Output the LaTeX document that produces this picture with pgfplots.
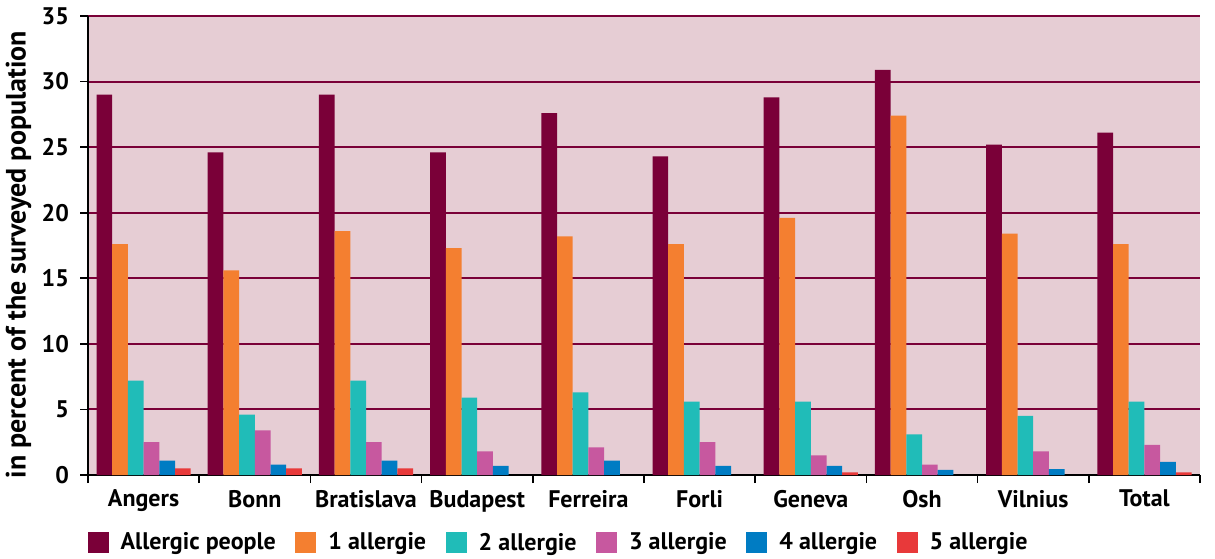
\documentclass[border=0pt]{standalone}
\usepackage{pgfplots}
\pgfplotsset{compat=1.18}
\usepackage{fontspec}
\setmainfont{PT Sans}
\definecolor{c0}{HTML}{7A0038}
\definecolor{c1}{HTML}{F47F30}
\definecolor{c2}{HTML}{20BCB8}
\definecolor{c3}{HTML}{C7589F}
\definecolor{c4}{HTML}{007CC3}
\definecolor{c5}{HTML}{E8393A}
\definecolor{bg}{HTML}{E6CDD4}
\begin{document}
\begin{tikzpicture}[x=1pt,y=1pt]
\useasboundingbox (0,0) rectangle (607.5,279);
\begin{axis}[
  at={(44pt,41.5pt)}, anchor=south west,
  width=556pt, height=229.5pt, scale only axis,
  ybar=0pt, bar width=7.85pt,
  xmin=-0.5, xmax=9.5, ymin=0, ymax=35,
  ytick={0,5,...,35},
  xtick={0,...,9},
  xticklabels={Angers,Bonn,Bratislava,Budapest,Ferreira,Forli,Geneva,Osh,Vilnius,Total},
  minor xtick={-0.5,0.5,...,9.5},
  major x tick style={draw=none},
  minor x tick style={black, line width=0.8pt},
  minor tick length=4pt,
  major tick length=4pt,
  ytick style={black, line width=0.8pt},
  axis x line*=bottom, axis y line*=left,
  axis line style={black, line width=1pt},
  ymajorgrids, grid style={c0, line width=1pt},
  axis background/.style={fill=bg},
  tick align=outside,
  /pgf/number format/assume math mode=true,
  xticklabel style={font=\bfseries\fontsize{12}{14}\selectfont, yshift=0pt},
  yticklabel style={font=\bfseries\fontsize{12}{14}\selectfont, xshift=-2pt},
  ylabel={in percent of the surveyed population},
  ylabel style={font=\bfseries\fontsize{14}{16}\selectfont,
    at={(axis description cs:-0.0625,0.48)}, anchor=center, rotate=0},
  legend style={at={(-0.006,-0.148)}, anchor=west, draw=none, fill=none,
    font=\bfseries\fontsize{12}{14}\selectfont,
    /tikz/every odd column/.append style={column sep=4pt},
    /tikz/every even column/.append style={column sep=7.75pt}},
  legend columns=6,
  legend image code/.code={\fill[#1] (0pt,-5.25pt) rectangle (10.5pt,5.25pt);},
  every axis plot/.append style={draw=none},
]
\addplot[fill=c0] coordinates {(0,29.0) (1,24.6) (2,29.0) (3,24.6) (4,27.6) (5,24.3) (6,28.8) (7,30.9) (8,25.2) (9,26.1)};
\addplot[fill=c1] coordinates {(0,17.6) (1,15.6) (2,18.6) (3,17.3) (4,18.2) (5,17.6) (6,19.6) (7,27.4) (8,18.4) (9,17.6)};
\addplot[fill=c2] coordinates {(0,7.2) (1,4.6) (2,7.2) (3,5.9) (4,6.3) (5,5.6) (6,5.6) (7,3.1) (8,4.5) (9,5.6)};
\addplot[fill=c3] coordinates {(0,2.5) (1,3.4) (2,2.5) (3,1.8) (4,2.1) (5,2.5) (6,1.5) (7,0.8) (8,1.8) (9,2.3)};
\addplot[fill=c4] coordinates {(0,1.1) (1,0.8) (2,1.1) (3,0.7) (4,1.1) (5,0.7) (6,0.7) (7,0.4) (8,0.45) (9,1.0)};
\addplot[fill=c5] coordinates {(0,0.5) (1,0.5) (2,0.5) (6,0.2) (9,0.2)};
\legend{Allergic people,1 allergie,2 allergie,3 allergie,4 allergie,5 allergie}
\end{axis}
\end{tikzpicture}
\end{document}
